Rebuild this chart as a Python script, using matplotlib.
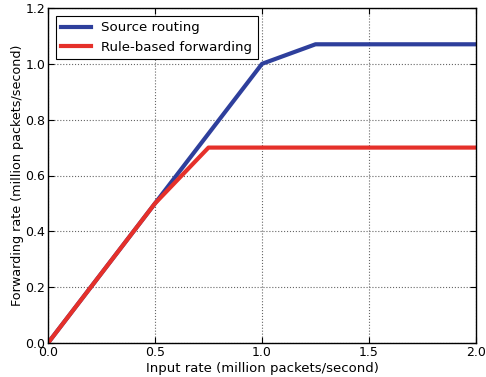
import matplotlib
matplotlib.use('Agg')
import matplotlib.pyplot as plt

# input rate (million packets/second)
src_x = [0.0, 0.5, 1.0, 1.25, 2.0]
src_y = [0.0, 0.5, 1.0, 1.07, 1.07]
rule_x = [0.0, 0.5, 0.75, 2.0]
rule_y = [0.0, 0.5, 0.7, 0.7]

plt.rcParams['font.family'] = 'DejaVu Sans'
plt.rcParams['font.size'] = 9.5

fig = plt.figure(figsize=(4.86, 3.77), dpi=100)
ax = fig.add_axes([48/486, 34/377, 428/486, 335/377])

ax.plot(src_x, src_y, color='#2e3f9c', lw=3, label='Source routing')
ax.plot(rule_x, rule_y, color='#e5302a', lw=3, label='Rule-based forwarding')

ax.set_xlim(0, 2.0)
ax.set_ylim(0, 1.2)
ax.set_xticks([0.0, 0.5, 1.0, 1.5, 2.0])
ax.set_yticks([0.0, 0.2, 0.4, 0.6, 0.8, 1.0, 1.2])
ax.tick_params(direction='in', top=True, right=True, labelsize=9, length=4, pad=2)
ax.grid(True, color='#666666', linestyle=':', linewidth=0.8)
for s in ax.spines.values():
    s.set_linewidth(1.0)

ax.set_xlabel('Input rate (million packets/second)', labelpad=2)
ax.set_ylabel('Forwarding rate (million packets/second)', fontsize=9.2, labelpad=1)

leg = ax.legend(loc='upper left', fancybox=False, framealpha=1, edgecolor='black',
                borderaxespad=0.6, handlelength=2.2, fontsize=9.6)
leg.get_frame().set_linewidth(0.8)

fig.savefig('out.png', dpi=100)
